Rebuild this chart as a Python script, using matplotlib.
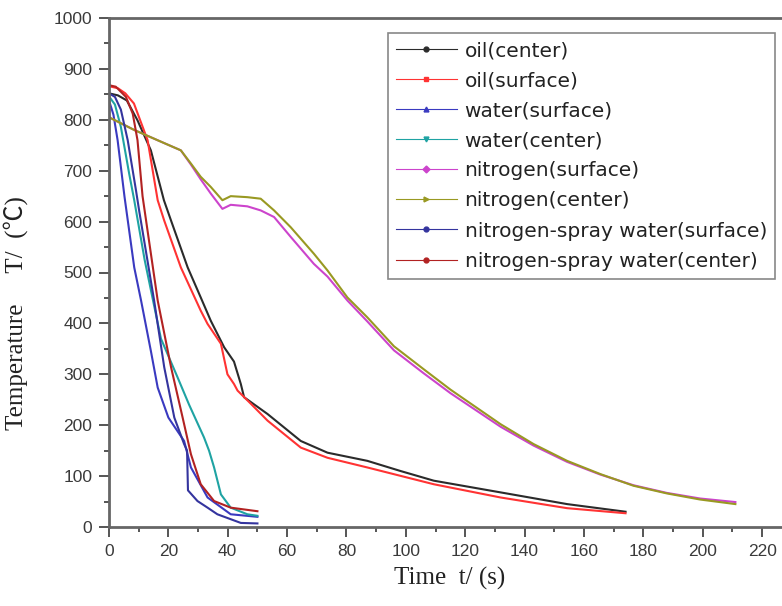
import matplotlib
matplotlib.use('Agg')
import matplotlib.pyplot as plt
from matplotlib.lines import Line2D
from matplotlib.ticker import MultipleLocator

# Readings: time t (s) and temperature T (°C)
oil_center_t = [0, 3, 6, 9.6, 14.1, 18.5, 20.9, 26.5, 30.9, 34.3, 38.8, 42.1, 44.4, 45.5, 53.4, 64.6, 73.6, 87, 98.2, 109.4, 131.9, 154.3, 174]
oil_center_T = [852, 848, 838, 799, 740, 642, 602, 510, 451, 405, 353, 325, 281, 255, 222, 169, 146, 130, 110, 91, 68, 45, 30]

oil_surface_t = [0, 3, 5.5, 8.4, 13, 16.4, 18.6, 24.2, 30.9, 33.2, 37.7, 39.9, 42.1, 43.3, 47.8, 53.4, 64.6, 73.6, 87, 109.4, 131.9, 154.3, 174]
oil_surface_T = [866, 862, 852, 832, 760, 642, 602, 510, 425, 399, 360, 300, 281, 268, 242, 209, 156, 136, 117, 84, 58, 37, 27]

water_surface_t = [0, 1.5, 2.9, 5.2, 8.5, 10.8, 14.1, 16.4, 20, 25.3, 27.6, 33.2, 41, 50]
water_surface_T = [838, 810, 760, 650, 510, 445, 346, 274, 215, 169, 117, 58, 25, 20]

water_center_t = [0, 2, 4, 6.8, 8.5, 12, 17.5, 23.1, 27, 32, 33.7, 35.4, 37.7, 41, 46.6, 50]
water_center_T = [846, 830, 786, 694, 642, 525, 370, 294, 240, 176, 150, 117, 64, 38, 25, 22]

nitrogen_t = [0, 8.5, 17.5, 24.2, 27.6, 30.9, 34.3, 38.2, 41, 46.6, 51.1, 55.6, 61.2, 69, 73.6, 80.3, 87, 96, 106, 115, 131.9, 143, 154.3, 165.5, 176.7, 187.9, 199.1, 211]
nitrogen_surface_T = [805, 780, 757, 740, 712, 683, 655, 625, 633, 630, 622, 609, 570, 517, 492, 445, 404, 347, 302, 263, 197, 160, 128, 103, 82, 67, 56, 49]
nitrogen_center_T = [805, 780, 757, 740, 714, 688, 668, 642, 650, 648, 645, 622, 589, 537, 504, 451, 412, 355, 310, 270, 202, 163, 130, 104, 81, 66, 54, 45]

spray_surface_t = [0, 2, 4, 6.3, 9.1, 10.2, 15.2, 18.6, 22, 25.3, 26.3, 26.6, 29.8, 33.2, 36.5, 44.4, 50]
spray_surface_T = [852, 845, 820, 760, 661, 620, 445, 314, 215, 163, 150, 72, 51, 38, 25, 8, 7]

spray_center_t = [0, 2.3, 5.7, 8, 9.6, 11.3, 16.4, 20.9, 24.8, 27.6, 30.9, 35.4, 41, 50]
spray_center_T = [868, 865, 845, 812, 760, 650, 445, 314, 215, 143, 84, 51, 38, 31]

labels = ['oil(center)', 'oil(surface)', 'water(surface)', 'water(center)',
          'nitrogen(surface)', 'nitrogen(center)',
          'nitrogen-spray water(surface)', 'nitrogen-spray water(center)']
colors = ['#2b2b2b', '#ff3333', '#3a3ac0', '#1fa3a3', '#cc44cc', '#999922', '#34349e', '#b22222']
markers = ['o', 's', '^', 'v', 'D', '>', 'o', 'o']

series = [
    (oil_center_t, oil_center_T),
    (oil_surface_t, oil_surface_T),
    (water_surface_t, water_surface_T),
    (water_center_t, water_center_T),
    (nitrogen_t, nitrogen_surface_T),
    (nitrogen_t, nitrogen_center_T),
    (spray_surface_t, spray_surface_T),
    (spray_center_t, spray_center_T),
]

fig = plt.figure(figsize=(7.82, 6.06), dpi=100)
ax = fig.add_axes([109 / 782, 1 - 527 / 606, 673 / 782, 509 / 606])

for (t, T), c in zip(series, colors):
    ax.plot(t, T, color=c, lw=1.5)

ax.set_xlim(0, 226.7)
ax.set_ylim(0, 1000)
ax.xaxis.set_major_locator(MultipleLocator(20))
ax.xaxis.set_minor_locator(MultipleLocator(10))
ax.yaxis.set_major_locator(MultipleLocator(100))
ax.yaxis.set_minor_locator(MultipleLocator(50))
ax.tick_params(which='major', direction='out', length=7, width=1.4, color='#555555',
               labelsize=12.5, labelcolor='#3a3a3a', pad=5)
ax.tick_params(which='minor', direction='out', length=3.6, width=1.4, color='#555555')
for lab in ax.get_xticklabels() + ax.get_yticklabels():
    lab.set_fontfamily('Liberation Sans')

for s in ['left', 'bottom', 'top']:
    ax.spines[s].set_color('#666666')
    ax.spines[s].set_linewidth(2)
ax.spines['right'].set_visible(False)

ax.set_xlabel('Time  t/ (s)', family='Liberation Serif', fontsize=18, color='#222222')
ax.xaxis.set_label_coords(0.506, -0.078)
ax.set_ylabel('Temperature     T/  (\u2103)', family=['Liberation Serif', 'Noto Sans CJK SC'],
              fontsize=18, color='#222222')
ax.yaxis.set_label_coords(-0.12, 0.42)

handles = [Line2D([0], [0], color=c, lw=0.8, marker=m, markersize=3.5) for c, m in zip(colors, markers)]
leg = ax.legend(handles, labels, loc='upper right', bbox_to_anchor=(0.9896, 0.9705),
                borderaxespad=0, numpoints=1, fancybox=False, edgecolor='#888888', framealpha=1,
                prop={'family': 'DejaVu Sans', 'size': 14.5}, handlelength=3.0,
                labelspacing=0.55, borderpad=0.4, handletextpad=0.4)
leg.get_frame().set_linewidth(1.2)
for txt in leg.get_texts():
    txt.set_color('#222222')

fig.savefig('out.png', dpi=100)
